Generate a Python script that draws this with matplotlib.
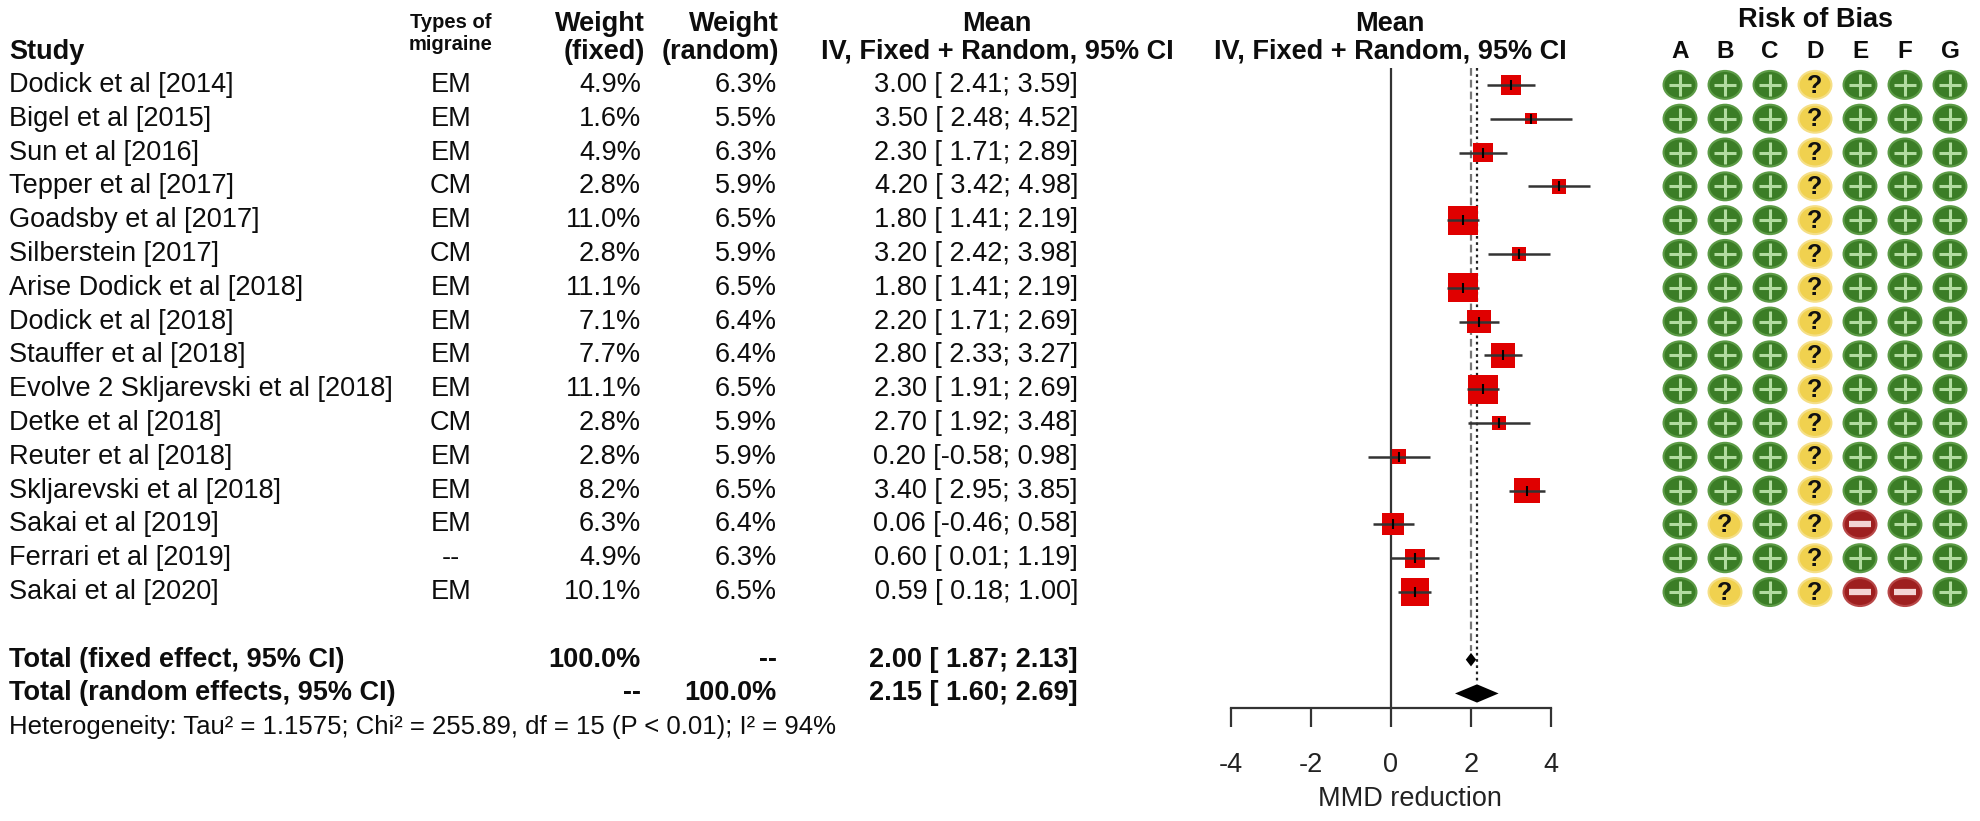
import matplotlib
matplotlib.use("Agg")
import matplotlib.pyplot as plt
from matplotlib.markers import MarkerStyle
from matplotlib.transforms import Affine2D, blended_transform_factory
import numpy as np

plt.rcParams["font.family"] = ["Liberation Sans", "DejaVu Sans"]

# ---------------- data ----------------
studies = ["Dodick et al [2014]", "Bigel et al [2015]", "Sun et al [2016]",
           "Tepper et al [2017]", "Goadsby et al [2017]", "Silberstein [2017]",
           "Arise Dodick et al [2018]", "Dodick et al [2018]", "Stauffer et al [2018]",
           "Evolve 2 Skljarevski et al [2018]", "Detke et al [2018]", "Reuter et al [2018]",
           "Skljarevski et al [2018]", "Sakai et al [2019]", "Ferrari et al [2019]",
           "Sakai et al [2020]"]
migraine_types = ["EM", "EM", "EM", "CM", "EM", "CM", "EM", "EM", "EM", "EM",
                  "CM", "EM", "EM", "EM", "--", "EM"]
w_fixed = [4.9, 1.6, 4.9, 2.8, 11.0, 2.8, 11.1, 7.1, 7.7, 11.1, 2.8, 2.8, 8.2, 6.3, 4.9, 10.1]
w_random = [6.3, 5.5, 6.3, 5.9, 6.5, 5.9, 6.5, 6.4, 6.4, 6.5, 5.9, 5.9, 6.5, 6.4, 6.3, 6.5]
md = [3.00, 3.50, 2.30, 4.20, 1.80, 3.20, 1.80, 2.20, 2.80, 2.30, 2.70, 0.20, 3.40, 0.06, 0.60, 0.59]
ci_lo = [2.41, 2.48, 1.71, 3.42, 1.41, 2.42, 1.41, 1.71, 2.33, 1.91, 1.92, -0.58, 2.95, -0.46, 0.01, 0.18]
ci_hi = [3.59, 4.52, 2.89, 4.98, 2.19, 3.98, 2.19, 2.69, 3.27, 2.69, 3.48, 0.98, 3.85, 0.58, 1.19, 1.00]
fixed_total = [2.00, 1.87, 2.13]
random_total = [2.15, 1.60, 2.69]
heterogeneity = "Heterogeneity: Tau² = 1.1575; Chi² = 255.89, df = 15 (P < 0.01); I² = 94%"
xticks = [-4, -2, 0, 2, 4]
domains = ["A", "B", "C", "D", "E", "F", "G"]
rob = ["+++?+++", "+++?+++", "+++?+++", "+++?+++", "+++?+++", "+++?+++",
       "+++?+++", "+++?+++", "+++?+++", "+++?+++", "+++?+++", "+++?+++",
       "+++?+++", "+?+?-++", "+++?+++", "+?+?--+"]

# ---------------- layout ----------------
W, H = 1980, 821
fig = plt.figure(figsize=(W / 100, H / 100), dpi=100)
fig.patch.set_facecolor("white")

def fx(px):
    return px / W

AX_TOP, AX_BOT = 68, 708
X0_PIX, UNIT = 1391, 40.0
ax = fig.add_axes([fx(1180), 1 - AX_BOT / H, (1640 - 1180) / W, (AX_BOT - AX_TOP) / H])
ax.set_xlim((1180 - X0_PIX) / UNIT, (1640 - X0_PIX) / UNIT)
n = len(studies)
y_rows = np.arange(n)
y_fixed = n + 1
y_random = n + 2
ax.set_ylim(18.43, -0.5)
ax.patch.set_alpha(0)

tr = blended_transform_factory(fig.transFigure, ax.transData)
TXT = "#0d0d0d"
FS = 19.5
FSH = 19.5

# header
y_h1, y_h2 = -1.80, -0.98
fig.text(fx(9), y_h2, "Study", transform=tr, ha="left", va="center", fontsize=FSH, fontweight="bold", color=TXT)
fig.text(fx(451), -1.85, "Types of", transform=tr, ha="center", va="center", fontsize=14.5, fontweight="bold", color=TXT)
fig.text(fx(451), -1.20, "migraine", transform=tr, ha="center", va="center", fontsize=14.5, fontweight="bold", color=TXT)
fig.text(fx(645), y_h1, "Weight", transform=tr, ha="right", va="center", fontsize=FSH, fontweight="bold", color=TXT)
fig.text(fx(645), y_h2, "(fixed)", transform=tr, ha="right", va="center", fontsize=FSH, fontweight="bold", color=TXT)
fig.text(fx(779), y_h1, "Weight", transform=tr, ha="right", va="center", fontsize=FSH, fontweight="bold", color=TXT)
fig.text(fx(779), y_h2, "(random)", transform=tr, ha="right", va="center", fontsize=FSH, fontweight="bold", color=TXT)
fig.text(fx(997), y_h1, "Mean", transform=tr, ha="center", va="center", fontsize=FSH, fontweight="bold", color=TXT)
fig.text(fx(997), y_h2, "IV, Fixed + Random, 95% CI", transform=tr, ha="center", va="center", fontsize=FSH, fontweight="bold", color=TXT)
fig.text(fx(1390), y_h1, "Mean", transform=tr, ha="center", va="center", fontsize=FSH, fontweight="bold", color=TXT)
fig.text(fx(1390), y_h2, "IV, Fixed + Random, 95% CI", transform=tr, ha="center", va="center", fontsize=FSH, fontweight="bold", color=TXT)

def ci_text(m, lo, hi):
    return f"{m:.2f} [{lo:5.2f}; {hi:.2f}]"

for i in range(n):
    y = y_rows[i]
    fig.text(fx(9), y, studies[i], transform=tr, ha="left", va="center", fontsize=FS, color=TXT)
    fig.text(fx(451), y, migraine_types[i], transform=tr, ha="center", va="center", fontsize=FS, color=TXT)
    fig.text(fx(641), y, f"{w_fixed[i]:.1f}%", transform=tr, ha="right", va="center", fontsize=FS, color=TXT)
    fig.text(fx(777), y, f"{w_random[i]:.1f}%", transform=tr, ha="right", va="center", fontsize=FS, color=TXT)
    fig.text(fx(1078), y, ci_text(md[i], ci_lo[i], ci_hi[i]), transform=tr, ha="right", va="center", fontsize=FS, color=TXT)

# totals
bold = dict(transform=tr, va="center", fontsize=FS, fontweight="bold", color=TXT)
fig.text(fx(9), y_fixed, "Total (fixed effect, 95% CI)", ha="left", **bold)
fig.text(fx(641), y_fixed, "100.0%", ha="right", **bold)
fig.text(fx(777), y_fixed, "--", ha="right", **bold)
fig.text(fx(1078), y_fixed, ci_text(*fixed_total), ha="right", **bold)
fig.text(fx(9), y_random, "Total (random effects, 95% CI)", ha="left", **bold)
fig.text(fx(641), y_random, "--", ha="right", **bold)
fig.text(fx(777), y_random, "100.0%", ha="right", **bold)
fig.text(fx(1078), y_random, ci_text(*random_total), ha="right", **bold)
fig.text(fx(9), 19.0, heterogeneity, transform=tr, ha="left", va="center", fontsize=18.5, color=TXT)

# ---------------- forest ----------------
LC = "#333333"
ax.axvline(0, color=LC, lw=1.6, zorder=1)
ax.vlines(fixed_total[0], -0.5, y_fixed - 0.25, colors="#777777", linestyles=(0, (3.5, 1.8)), lw=1.6, zorder=1)
ax.vlines(random_total[0], -0.5, y_random - 0.3, colors="#222222", linestyles=(0, (1.2, 1.6)), lw=1.6, zorder=1)

side = 20.9 * np.sqrt(np.array(w_fixed) / 11.0)
ax.scatter(md, y_rows, marker="s", s=side ** 2, color="#e00000", linewidths=0, zorder=3)
ax.hlines(y_rows, ci_lo, ci_hi, colors=LC, lw=1.8, zorder=4)
ax.scatter(md, y_rows, marker="|", s=60, color="black", linewidths=1.5, zorder=5)

for (m, lo, hi), yy, hh in [(fixed_total, y_fixed, 0.2), (random_total, y_random, 0.27)]:
    ax.fill([lo, m, hi, m], [yy, yy - hh, yy, yy + hh], color="black", lw=0, zorder=4)

for s in ["top", "right", "left"]:
    ax.spines[s].set_visible(False)
ax.spines["bottom"].set_bounds(xticks[0], xticks[-1])
ax.spines["bottom"].set_color(LC)
ax.spines["bottom"].set_linewidth(1.6)
ax.set_xticks(xticks)
ax.set_xticklabels([str(t) for t in xticks])
ax.tick_params(axis="x", direction="out", length=13.5, width=1.6, color=LC,
               labelsize=FS, pad=18, labelcolor="#222222")
ax.set_yticks([])
ax.set_xlabel("MMD reduction", fontsize=FS, labelpad=6, color="#222222")

# ---------------- risk of bias ----------------
rax = fig.add_axes([fx(1657.5), 1 - AX_BOT / H, 315 / W, (AX_BOT - AX_TOP) / H])
rax.set_xlim(-0.5, 6.5)
rax.set_ylim(18.43, -0.5)
rax.axis("off")

fill_map = {"+": "#3b7d26", "?": "#f0d14f", "-": "#9e1f1f"}
edge_map = {"+": "#5c9b46", "?": "#f5df86", "-": "#b84848"}
xs, ys, fc, ec = [], [], [], []
plus_x, plus_y, minus_x, minus_y = [], [], [], []
for i, code in enumerate(rob):
    for j, c in enumerate(code):
        xs.append(j)
        ys.append(i)
        fc.append(fill_map[c])
        ec.append(edge_map[c])
        if c == "+":
            plus_x.append(j); plus_y.append(i)
        elif c == "-":
            minus_x.append(j); minus_y.append(i)
        else:
            rax.text(j, i + 0.02, "?", ha="center", va="center", fontsize=18,
                     fontweight="bold", color="#111111", zorder=4)
ell = MarkerStyle("o", transform=Affine2D().scale(1.0, 0.85))
rax.scatter(xs, ys, s=560, marker=ell, c=fc, edgecolors=ec, linewidths=1.5, zorder=2)
rax.scatter(plus_x, plus_y, marker="+", s=250, c="#b2dca0", linewidths=2.2, zorder=3)
rax.scatter(minus_x, minus_y, marker="_", s=250, c="#f3d3d3", linewidths=4.5, zorder=3)

for j, d in enumerate(domains):
    rax.text(j, -0.98, d, ha="center", va="center", fontsize=17.5, fontweight="bold", color=TXT)
rax.text(3, -1.92, "Risk of Bias", ha="center", va="center", fontsize=FSH, fontweight="bold", color=TXT)

fig.savefig("out.png", dpi=100, facecolor="white")
